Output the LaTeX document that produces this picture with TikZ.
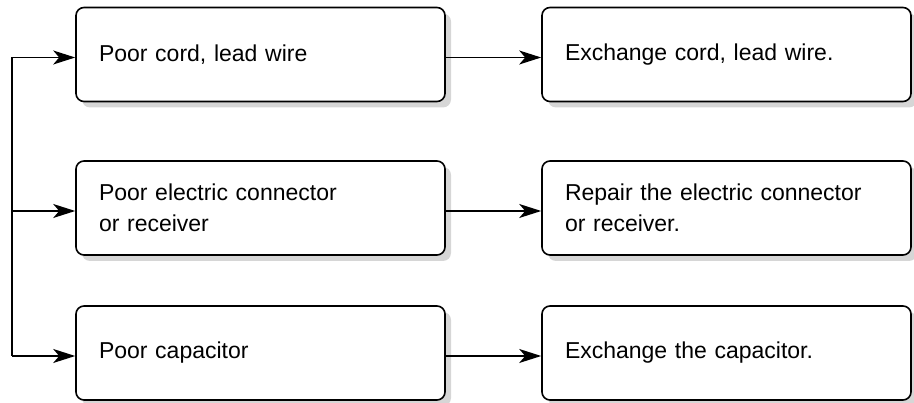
\documentclass[tikz,border=0pt]{standalone}
\usepackage{fontspec}
\setmainfont{Liberation Sans}
\usetikzlibrary{arrows.meta}
\definecolor{shadowgray}{RGB}{214,214,214}
\tikzset{
  faultbox/.style={draw, line width=1.6pt, rounded corners=8pt, fill=white,
    minimum width=369pt, minimum height=94pt, text width=323pt, inner xsep=23pt,
    align=left, font=\fontsize{23}{31}\selectfont},
  boxshadow/.style={fill=shadowgray, draw=none, rounded corners=8pt,
    minimum width=369pt, minimum height=94pt, inner sep=0pt},
  flow/.style={-{Stealth[length=22pt, width=14pt, inset=6pt]}, line width=1.3pt},
}
\begin{document}
\begin{tikzpicture}[x=1pt, y=1pt, line join=round, line width=1.3pt]
  \useasboundingbox (0,0) rectangle (914,403);
  \def\lx{260.5}
  \def\rx{726.5}
  % shadows first, offset down and right
  \foreach \cx in {\lx,\rx}
    \foreach \cy in {348.5,195,50}
      \node[boxshadow] at (\cx+6,\cy-6) {};
  % causes
  \node[faultbox] (cord) at (\lx,348.5) {Poor cord, lead wire};
  \node[faultbox] (conn) at (\lx,195) {Poor electric connector\\or receiver};
  \node[faultbox] (capa) at (\lx,50) {Poor capacitor};
  % remedies
  \node[faultbox] (cordfix) at (\rx,348.5) {Exchange cord, lead wire.};
  \node[faultbox] (connfix) at (\rx,195) {Repair the electric connector\\or receiver.};
  \node[faultbox] (capafix) at (\rx,50) {Exchange the capacitor.};
  % arrow ends sit a little below the box centres
  \coordinate (cordin) at ([yshift=-3pt]cord.west);
  \coordinate (connin) at ([yshift=-3pt]conn.west);
  \coordinate (capain) at ([yshift=-3pt]capa.west);
  \coordinate (trunk) at (12,0);
  \draw (trunk |- cordin) -- (trunk |- capain);
  \draw[flow] (trunk |- cordin) -- (cordin);
  \draw[flow] (trunk |- connin) -- (connin);
  \draw[flow] (trunk |- capain) -- (capain);
  \draw[flow] ([yshift=-3pt]cord.east) -- ([yshift=-3pt]cordfix.west);
  \draw[flow] ([yshift=-3pt]conn.east) -- ([yshift=-3pt]connfix.west);
  \draw[flow] ([yshift=-3pt]capa.east) -- ([yshift=-3pt]capafix.west);
\end{tikzpicture}
\end{document}
